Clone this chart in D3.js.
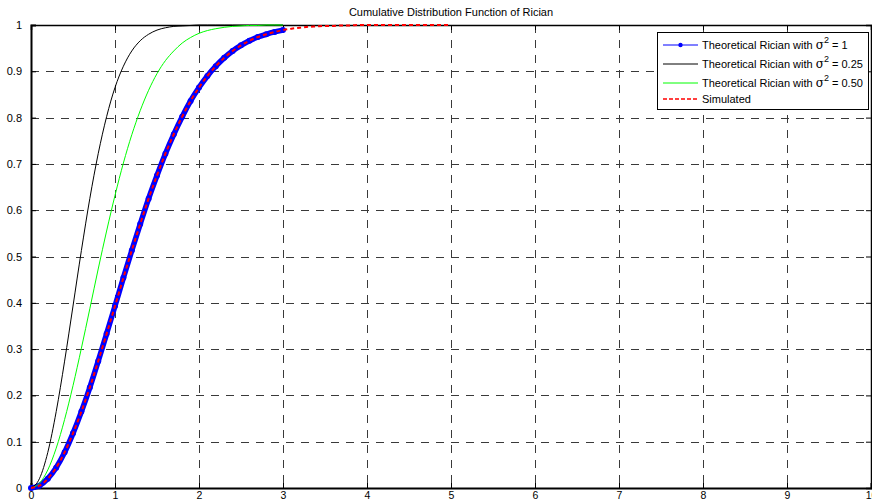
<!DOCTYPE html>
<html>
<head>
<meta charset="utf-8">
<script src="https://cdn.jsdelivr.net/npm/d3@7"></script>
<style>
  html, body { margin: 0; padding: 0; background: #fff; }
  svg { display: block; font-family: "Liberation Sans", Arial, sans-serif; }
</style>
</head>
<body>
<svg id="chart" width="872" height="504"></svg>
<script>
// Sample positions (x) for each curve
const xTheory = [0,0.1,0.2,0.3,0.4,0.5,0.6,0.7,0.8,0.9,1.0,1.1,1.2,1.3,1.4,1.5,1.6,1.7,1.8,1.9,2.0,
                 2.1,2.2,2.3,2.4,2.5,2.6,2.7,2.8,2.9,3.0];
const xSim = [0,0.1,0.2,0.3,0.4,0.5,0.6,0.7,0.8,0.9,1.0,1.1,1.2,1.3,1.4,1.5,1.6,1.7,1.8,1.9,2.0,
              2.1,2.2,2.3,2.4,2.5,2.6,2.7,2.8,2.9,3.0,3.1,3.2,3.3,3.4,3.5,3.6,3.7,3.8,3.9,4.0,
              4.1,4.2,4.3,4.4,4.5,4.6,4.7,4.8,4.9,5.0];

// CDF values
const cdfSigma1 = [0,0.005,0.020,0.044,0.077,0.118,0.165,0.217,0.274,0.333,0.393,0.454,0.513,0.570,0.625,
                   0.675,0.722,0.764,0.802,0.836,0.865,0.890,0.911,0.929,0.944,0.956,0.966,0.974,0.980,0.985,0.989];
const cdfSigma025 = [0,0.020,0.077,0.165,0.274,0.393,0.513,0.625,0.722,0.802,0.865,0.911,0.944,0.966,0.980,
                     0.989,0.994,0.997,0.998,0.999,1,1,1,1,1,1,1,1,1,1,1];
const cdfSigma050 = [0,0.010,0.039,0.086,0.148,0.221,0.302,0.387,0.473,0.555,0.632,0.702,0.763,0.815,0.859,
                     0.895,0.923,0.944,0.961,0.973,0.982,0.988,0.992,0.995,0.997,0.998,0.999,0.999,1,1,1];
const cdfSimulated = [0,0.005,0.020,0.044,0.077,0.118,0.165,0.217,0.274,0.333,0.393,0.454,0.513,0.570,0.625,
                      0.675,0.722,0.764,0.802,0.836,0.865,0.890,0.911,0.929,0.944,0.956,0.966,0.974,0.980,0.985,
                      0.989,0.992,0.994,0.996,0.997,0.998,0.998,0.999,0.999,1,1,1,1,1,1,1,1,1,1,1,1];

const xTicks = [0,1,2,3,4,5,6,7,8,9,10];
const yTicks = [0,0.1,0.2,0.3,0.4,0.5,0.6,0.7,0.8,0.9,1];

const svg = d3.select("#chart");
const margin = { left: 31, right: 1, top: 25, bottom: 16 };
const W = 872, H = 504;

const x = d3.scaleLinear().domain([0, 10]).range([margin.left, W - margin.right]);
const y = d3.scaleLinear().domain([0, 1]).range([H - margin.bottom, margin.top]);

// Title
svg.append("text")
  .attr("x", 451).attr("y", 16)
  .attr("text-anchor", "middle")
  .attr("font-size", 11)
  .attr("fill", "#000")
  .text("Cumulative Distribution Function of Rician");

// Grid
const grid = svg.append("g").attr("stroke", "#3a3a3a").attr("stroke-width", 1)
  .attr("stroke-dasharray", "8,7").attr("shape-rendering", "crispEdges");
grid.selectAll("line.vx").data(xTicks.slice(1, -1)).enter().append("line")
  .attr("x1", d => Math.round(x(d)) + 0.5).attr("x2", d => Math.round(x(d)) + 0.5)
  .attr("y1", y(1)).attr("y2", y(0));
grid.selectAll("line.hy").data(yTicks.slice(1, -1)).enter().append("line")
  .attr("y1", d => Math.round(y(d)) + 0.5).attr("y2", d => Math.round(y(d)) + 0.5)
  .attr("x1", x(0)).attr("x2", x(10));

// Axes (ticks inside, box style)
const fmt = d => (d === 0 ? "0" : d === 1 ? "1" : d3.format(".1f")(d));
const axB = svg.append("g").attr("transform", `translate(0,${y(0)})`)
  .call(d3.axisBottom(x).tickValues(xTicks).tickSize(-5).tickPadding(4).tickFormat(d3.format("d")));
const axT = svg.append("g").attr("transform", `translate(0,${y(1)})`)
  .call(d3.axisTop(x).tickValues(xTicks).tickSize(-5).tickFormat(""));
const axL = svg.append("g").attr("transform", `translate(${x(0)},0)`)
  .call(d3.axisLeft(y).tickValues(yTicks).tickSize(-5).tickPadding(9).tickFormat(fmt));
const axR = svg.append("g").attr("transform", `translate(${x(10)},0)`)
  .call(d3.axisRight(y).tickValues(yTicks).tickSize(-5).tickFormat(""));
[axB, axT, axL, axR].forEach(a => {
  a.selectAll(".domain").attr("stroke", "#000").attr("stroke-width", 1.5);
  a.selectAll(".tick line").attr("stroke", "#000");
  a.selectAll("text").attr("font-size", 11).attr("fill", "#000")
    .attr("font-family", "Liberation Sans, Arial, sans-serif");
});
axB.selectAll("text").attr("font-size", 10.5);
axB.select(".domain").attr("stroke-width", 2);
axL.select(".domain").attr("stroke-width", 2);

// Curves
const plot = svg.append("g");
const line = (xs) => d3.line()
  .x((d, i) => x(xs[i])).y(d => y(d))
  .curve(d3.curveMonotoneX);

plot.append("path").datum(cdfSigma1)
  .attr("d", line(xTheory)).attr("fill", "none")
  .attr("stroke", "#0000ff").attr("stroke-width", 5.5);
plot.selectAll("circle.m").data(cdfSigma1).enter().append("circle")
  .attr("cx", (d, i) => x(xTheory[i])).attr("cy", d => y(d)).attr("r", 3)
  .attr("fill", "#0000ff");
plot.append("path").datum(cdfSigma025)
  .attr("d", line(xTheory)).attr("fill", "none")
  .attr("stroke", "#000").attr("stroke-width", 1);
plot.append("path").datum(cdfSigma050)
  .attr("d", line(xTheory)).attr("fill", "none")
  .attr("stroke", "#00ff00").attr("stroke-width", 1);
plot.append("path").datum(cdfSimulated)
  .attr("d", line(xSim)).attr("fill", "none")
  .attr("stroke", "#ff0000").attr("stroke-width", 2).attr("stroke-dasharray", "4,3");

// Legend
const lg = svg.append("g");
lg.append("rect").attr("x", 657.5).attr("y", 32.5).attr("width", 211).attr("height", 77)
  .attr("fill", "#fff").attr("stroke", "#000").attr("stroke-width", 1);
const entries = [
  { label: "Theoretical Rician with ", sup: "2", tail: " = 1", color: "#0000ff", w: 1, dash: null, dot: true, yy: 45 },
  { label: "Theoretical Rician with ", sup: "2", tail: " = 0.25", color: "#000", w: 1, dash: null, dot: false, yy: 64 },
  { label: "Theoretical Rician with ", sup: "2", tail: " = 0.50", color: "#00ff00", w: 1, dash: null, dot: false, yy: 83 },
  { label: "Simulated", sup: null, tail: "", color: "#ff0000", w: 1.5, dash: "4,2", dot: false, yy: 99 }
];
entries.forEach(e => {
  lg.append("line").attr("x1", 663).attr("x2", 698).attr("y1", e.yy).attr("y2", e.yy)
    .attr("stroke", e.color).attr("stroke-width", e.w)
    .attr("stroke-dasharray", e.dash);
  if (e.dot) lg.append("circle").attr("cx", 680.5).attr("cy", e.yy).attr("r", 2.2).attr("fill", e.color);
  const t = lg.append("text").attr("x", 702).attr("y", e.yy + 4).attr("font-size", 11).attr("fill", "#000");
  t.append("tspan").text(e.label);
  if (e.sup) {
    t.append("tspan").attr("font-size", 12).attr("font-family", "DejaVu Serif, serif").text("σ");
    t.append("tspan").attr("dy", -6).attr("font-size", 9).text(e.sup);
    t.append("tspan").attr("dy", 6).text(e.tail);
  }
});
</script>
</body>
</html>
